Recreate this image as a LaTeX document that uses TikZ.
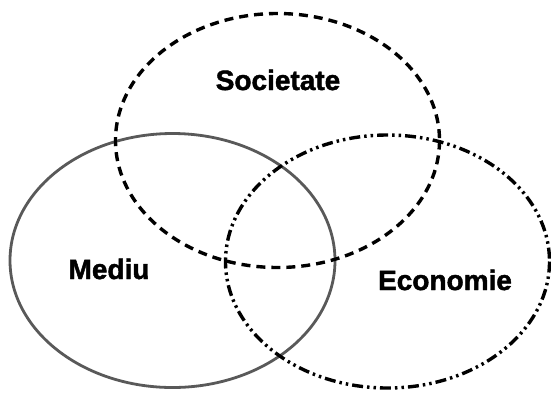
\documentclass[tikz,border=0pt]{standalone}
\usepackage{fontspec}
\setmainfont{Liberation Sans}
\newfontfamily\heavyfont{Liberation Sans Bold}[FakeBold=1.6]
\begin{document}
\begin{tikzpicture}[x=1pt,y=-1pt]

      \useasboundingbox (0,0) rectangle (551,392);

      \tikzset{
        mediu/.style={draw=black!65,line width=2.8pt},
        soc/.style={draw=black,line width=3.4pt,dash pattern=on 9pt off 6pt},
        eco/.style={draw=black,line width=3.4pt,dash pattern=on 11pt off 4pt on 2.5pt off 4pt on 2.5pt off 4pt},
        label/.style={font=\heavyfont\fontsize{28}{32}\selectfont,inner sep=0pt}
      }

      \draw[mediu] (172.5,260.5) ellipse [x radius=162.5,y radius=127];
      \draw[soc]   (277.5,140.5) ellipse [x radius=162,y radius=127];
      \draw[eco]   (387.5,261.5) ellipse [x radius=162,y radius=126.5];

      \begin{scope}[every node/.style={label}]
        \node (soc) at (278,80)  {Societate};
        \node (med) at (109,269) {Mediu};
        \node (eco) at (445,280) {Economie};
      \end{scope}

    \end{tikzpicture}
\end{document}
